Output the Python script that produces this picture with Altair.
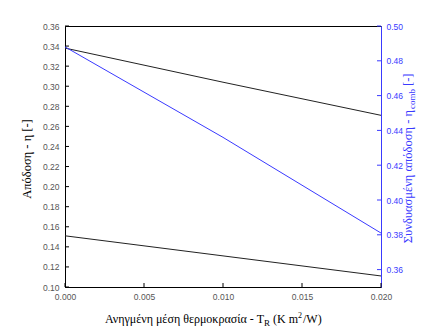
import altair as alt
import pandas as pd

# ---- data ----
x_vals = [0.0, 0.01, 0.02]
eta_upper = [0.338, 0.304, 0.271]
eta_lower = [0.151, 0.131, 0.111]
eta_comb = [0.488, 0.436, 0.381]

left_ticks = [0.10, 0.12, 0.14, 0.16, 0.18, 0.20, 0.22, 0.24, 0.26, 0.28, 0.30, 0.32, 0.34, 0.36]
right_ticks = [0.36, 0.38, 0.40, 0.42, 0.44, 0.46, 0.48, 0.50]
x_ticks = [0.0, 0.005, 0.010, 0.015, 0.020]

BLUE = "#3a3aff"
W, H = 316, 261
SANS = "Liberation Sans, Arial, sans-serif"
SERIF = "Liberation Serif, DejaVu Serif, Times New Roman, serif"

df_black = pd.DataFrame({
    "x": x_vals * 2,
    "eta": eta_upper + eta_lower,
    "series": ["upper"] * len(x_vals) + ["lower"] * len(x_vals),
})
df_blue = pd.DataFrame({"x": x_vals, "eta": eta_comb})
df_lt = pd.DataFrame({"v": left_ticks})
df_rt = pd.DataFrame({"v": right_ticks})
df_xt = pd.DataFrame({"v": x_ticks})

x_scale = alt.Scale(domain=[0, 0.02], nice=False, zero=False)
x_axis = alt.Axis(values=x_ticks, format=".3f", title=None, ticks=False, tickSize=0,
                  labelPadding=5, domainColor="black", labelFont=SANS, labelFontSize=8.5,
                  labelColor="#555555", grid=False, labelFlush=False)
left_scale = alt.Scale(domain=[0.10, 0.36], nice=False, zero=False)
left_axis = alt.Axis(orient="left", values=left_ticks, format=".2f", title=None, ticks=False,
                     tickSize=0, labelPadding=6, domainColor="black", labelFont=SANS,
                     labelFontSize=8.5, labelColor="#555555", grid=False, labelFlush=False)
right_scale = alt.Scale(domain=[0.35, 0.50], nice=False, zero=False)
right_axis = alt.Axis(orient="right", values=right_ticks, format=".2f", title=None, ticks=False,
                      tickSize=0, labelPadding=5, domainColor=BLUE, labelFont=SANS,
                      labelFontSize=8.5, labelColor=BLUE, grid=False, labelFlush=False)

X = alt.X("x:Q", scale=x_scale, axis=x_axis)

black_lines = alt.Chart(df_black).mark_line(color="#222222", strokeWidth=1).encode(
    x=X, y=alt.Y("eta:Q", scale=left_scale, axis=left_axis), detail="series:N")
left_tick_rules = alt.Chart(df_lt).mark_rule(color="black", strokeWidth=1).encode(
    x=alt.value(0), x2=alt.value(4), y=alt.Y("v:Q", scale=left_scale, axis=left_axis))
left_group = alt.layer(black_lines, left_tick_rules)

blue_line = alt.Chart(df_blue).mark_line(color=BLUE, strokeWidth=1).encode(
    x=X, y=alt.Y("eta:Q", scale=right_scale, axis=right_axis))
right_tick_rules = alt.Chart(df_rt).mark_rule(color=BLUE, strokeWidth=1).encode(
    x=alt.value(W), x2=alt.value(W - 4), y=alt.Y("v:Q", scale=right_scale, axis=right_axis))
right_group = alt.layer(blue_line, right_tick_rules)

bottom_tick_rules = alt.Chart(df_xt).mark_rule(color="black", strokeWidth=1).encode(
    x=alt.X("v:Q", scale=x_scale, axis=x_axis), y=alt.value(H), y2=alt.value(H - 4))

one = pd.DataFrame({"a": [0]})


def txt(s, x, y, size=12, color="black", angle=0, align="center", baseline="alphabetic"):
    return alt.Chart(one).mark_text(text=s, font=SERIF, fontSize=size, color=color,
                                    angle=angle, align=align, baseline=baseline).encode(
        x=alt.value(x), y=alt.value(y))


# axis titles (text pieces so that sub/superscripts can be drawn)
left_title = txt("Απόδοση - η [-]", -38, 133, size=12.5, angle=270, baseline="middle")

xt0 = 199
xtb = 297
x_title = [
    txt("Ανηγμένη μέση θερμοκρασία - T", xt0, xtb, align="right"),
    txt("R", xt0, xtb + 3, size=9, align="left"),
    txt("(K m", xt0 + 9, xtb, align="left"),
    txt("2", xt0 + 34, xtb - 5, size=8, align="left"),
    txt("/W)", xt0 + 39, xtb, align="left"),
]

rx = 343
ry0 = 84
right_title = [
    txt("Συνδυασμένη απόδοση - η", rx, ry0, size=12.5, color=BLUE, angle=270, align="right", baseline="middle"),
    txt("comb", rx + 4, ry0 - 1, size=9, color=BLUE, angle=270, align="left", baseline="middle"),
    txt("[-]", rx, ry0 - 24, size=12.5, color=BLUE, angle=270, align="left", baseline="middle"),
]

chart = alt.layer(
    left_group, right_group, bottom_tick_rules, left_title, *x_title, *right_title
).resolve_scale(y="independent").properties(
    width=W, height=H,
    autosize=alt.AutoSizeParams(type="none"),
    padding={"left": 57, "top": 18, "right": 38, "bottom": 40},
    background="white",
).configure_view(stroke="black", strokeWidth=1)

chart.save("out.html", embed_options={"renderer": "svg", "actions": False})
